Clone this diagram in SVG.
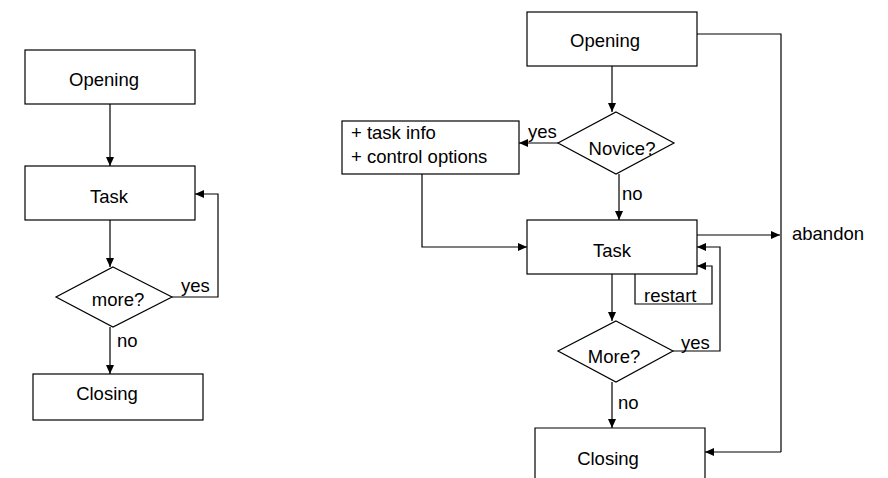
<svg xmlns="http://www.w3.org/2000/svg" width="888" height="478" viewBox="0 0 888 478">
<defs>
<marker id="ah" markerWidth="9" markerHeight="8" refX="9" refY="4" orient="auto" markerUnits="userSpaceOnUse">
<path d="M0,0 L9,4 L0,8 Z" fill="#000"/>
</marker>
<style>
.b{fill:#fff;stroke:#000;stroke-width:1.2}
.c{fill:none;stroke:#000;stroke-width:1.2;marker-end:url(#ah)}
.l{fill:none;stroke:#000;stroke-width:1.2}
text{font-family:"Liberation Sans",Arial,sans-serif;font-size:18.5px;fill:#000}
.m{text-anchor:middle}
</style>
</defs>
<rect width="888" height="478" fill="#fff"/>
<g id="connectors">
<!-- left -->
<path class="c" d="M110,104 V166"/>
<path class="c" d="M110,220 V267"/>
<path class="c" d="M172,297 H218 V194 H195"/>
<path class="c" d="M110,327 V374"/>
<!-- right -->
<path class="c" d="M612,66 V112"/>
<path class="c" d="M558,143 H519"/>
<path class="c" d="M619,174 V220"/>
<path class="c" d="M422,174 V247 H527"/>
<path class="c" d="M697,235 H780"/>
<path class="l" d="M697,34 H781 V452"/>
<path class="c" d="M781,452 H705"/>
<path class="c" d="M635,274 V304 H712 V266 H697"/>
<path class="c" d="M673,351 H720 V247 H697"/>
<path class="c" d="M612,274 V321"/>
<path class="c" d="M612,382 V428"/>
</g>
<g id="l-opening"><rect class="b" x="25" y="50" width="170" height="54"/><text class="m" x="104" y="86">Opening</text></g>
<g id="l-task"><rect class="b" x="25" y="166" width="170" height="54"/><text class="m" x="109" y="203">Task</text></g>
<g id="l-more"><path class="b" d="M113,267 L172,297 L113,327 L56,297 Z"/><text class="m" x="118" y="306">more?</text></g>
<g id="l-closing"><rect class="b" x="33" y="374" width="170" height="46"/><text class="m" x="107" y="400">Closing</text></g>
<g id="l-labels"><text x="181" y="292">yes</text><text x="117" y="347">no</text></g>
<g id="r-opening"><rect class="b" x="527" y="12" width="170" height="54"/><text class="m" x="605" y="47">Opening</text></g>
<g id="r-novice"><path class="b" d="M616,112 L674,143 L616,174 L558,143 Z"/><text class="m" x="622" y="155">Novice?</text></g>
<g id="r-info"><rect class="b" x="342" y="121" width="177" height="53"/><text x="351" y="139">+ task info</text><text x="351" y="163">+ control options</text></g>
<g id="r-task"><rect class="b" x="527" y="220" width="170" height="54"/><text class="m" x="612" y="257">Task</text></g>
<g id="r-more"><path class="b" d="M616,321 L673,351 L616,382 L558,351 Z"/><text class="m" x="614" y="363">More?</text></g>
<g id="r-closing"><path class="b" d="M535,480 V428 H705 V480"/><text class="m" x="608" y="465">Closing</text></g>
<g id="r-labels"><text x="528" y="138">yes</text><text x="622" y="200">no</text><text x="792" y="240">abandon</text><text x="644" y="302">restart</text><text x="681" y="349">yes</text><text x="618" y="409">no</text></g>
</svg>
